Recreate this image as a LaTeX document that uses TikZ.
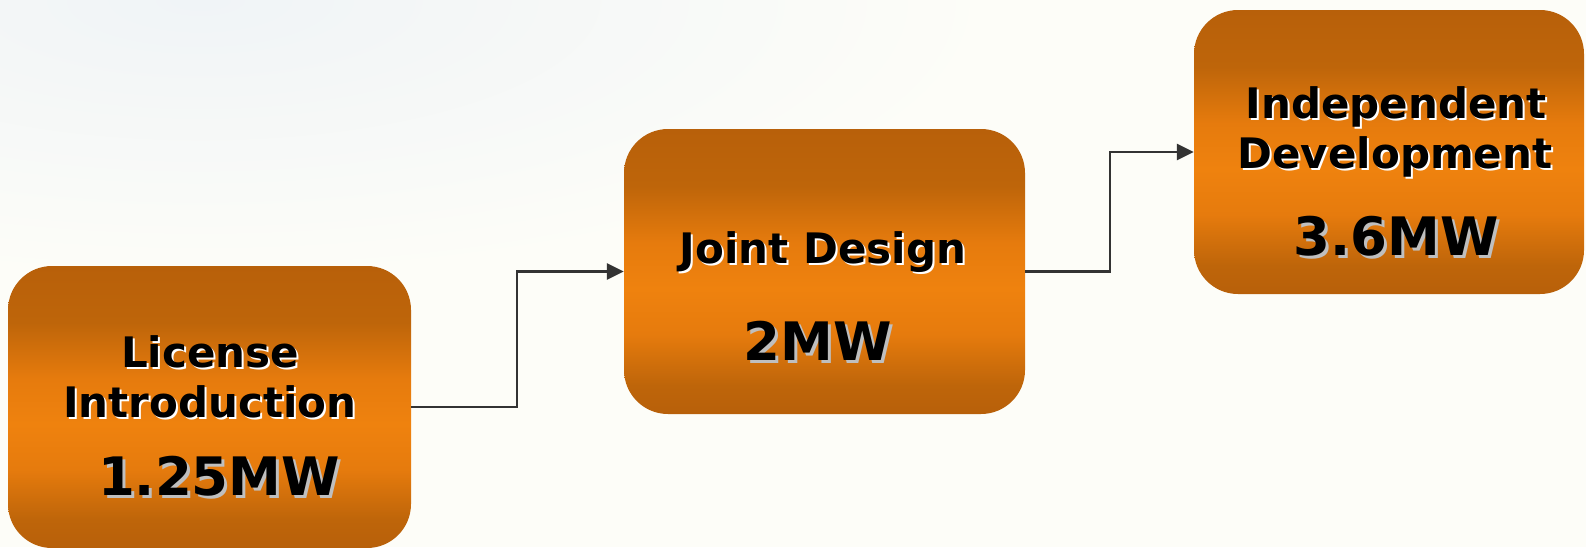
\documentclass[tikz,border=0pt]{standalone}
\usepackage{fontspec}
\setmainfont{DejaVu Sans}
\usetikzlibrary{arrows.meta}
\definecolor{bgc}{HTML}{FDFDF8}
\definecolor{bluish}{HTML}{F0F4F7}
\definecolor{oA}{HTML}{B8600A}
\definecolor{oB}{HTML}{BE650A}
\definecolor{oC}{HTML}{E67B0D}
\definecolor{oD}{HTML}{EF820E}
\definecolor{linec}{HTML}{333333}
\pgfdeclareverticalshading{boxshade}{100bp}{color(0bp)=(oA); color(25bp)=(oA); color(30bp)=(oB); color(39bp)=(oC); color(47bp)=(oD); color(55bp)=(oC); color(65bp)=(oB); color(75bp)=(oA); color(100bp)=(oA)}
\tikzset{
  box/.style={rectangle, rounded corners=44pt, shading=boxshade, draw=none, inner sep=0pt},
  nametext/.style={font=\bfseries\fontsize{42}{46}\selectfont, anchor=base, inner sep=0pt},
  valtext/.style={font=\bfseries\fontsize{53}{58}\selectfont, anchor=base, inner sep=0pt},
  glow/.style={text=white},
  vglow/.style={text=black!25},
  conn/.style={draw=linec, line width=2.7pt, -{Triangle[length=17pt,width=16pt]}}
}
\newcommand{\lbl}[4]{% name, style, position, text
  \node[#2, glow] (#1s) at ([xshift=2pt,yshift=-2pt]#3) {#4};
  \node[#2] (#1) at (#3) {#4};}
\newcommand{\vlbl}[4]{%
  \node[#2, vglow] (#1s) at ([xshift=3pt,yshift=-3pt]#3) {#4};
  \node[#2] (#1) at (#3) {#4};}
\begin{document}
\begin{tikzpicture}[x=1pt,y=-1pt]
\fill[bgc] (0,0) rectangle (1586,547);
\begin{scope}
\clip (0,0) rectangle (1586,547);
\shade[inner color=bluish, outer color=bgc] (200,0) ellipse (800 and 280);
\end{scope}
\useasboundingbox (0,0) rectangle (1586,547);

\node[box, minimum width=403pt, minimum height=282pt] (b1) at (209.5,407) {};
\node[box, minimum width=401pt, minimum height=285pt] (b2) at (824.5,271.5) {};
\node[box, minimum width=390pt, minimum height=284pt] (b3) at (1389,152) {};

\lbl{t1a}{nametext}{210,367}{License}
\lbl{t1b}{nametext}{210,417}{Introduction}
\vlbl{t1c}{valtext}{219,495}{1.25MW}

\lbl{t2a}{nametext}{823,263}{Joint Design}
\vlbl{t2b}{valtext}{818,360}{2MW}

\lbl{t3a}{nametext}{1396,118}{Independent}
\lbl{t3b}{nametext}{1395,168}{Development}
\vlbl{t3c}{valtext}{1396,255}{3.6MW}

\coordinate (k1) at (517,407);
\coordinate (k2) at (1110,271.5);
\draw[conn] (b1.east) -- (k1) |- (b2.west);
\draw[conn] (b2.east) -- (k2) |- (b3.west);
\end{tikzpicture}
\end{document}
